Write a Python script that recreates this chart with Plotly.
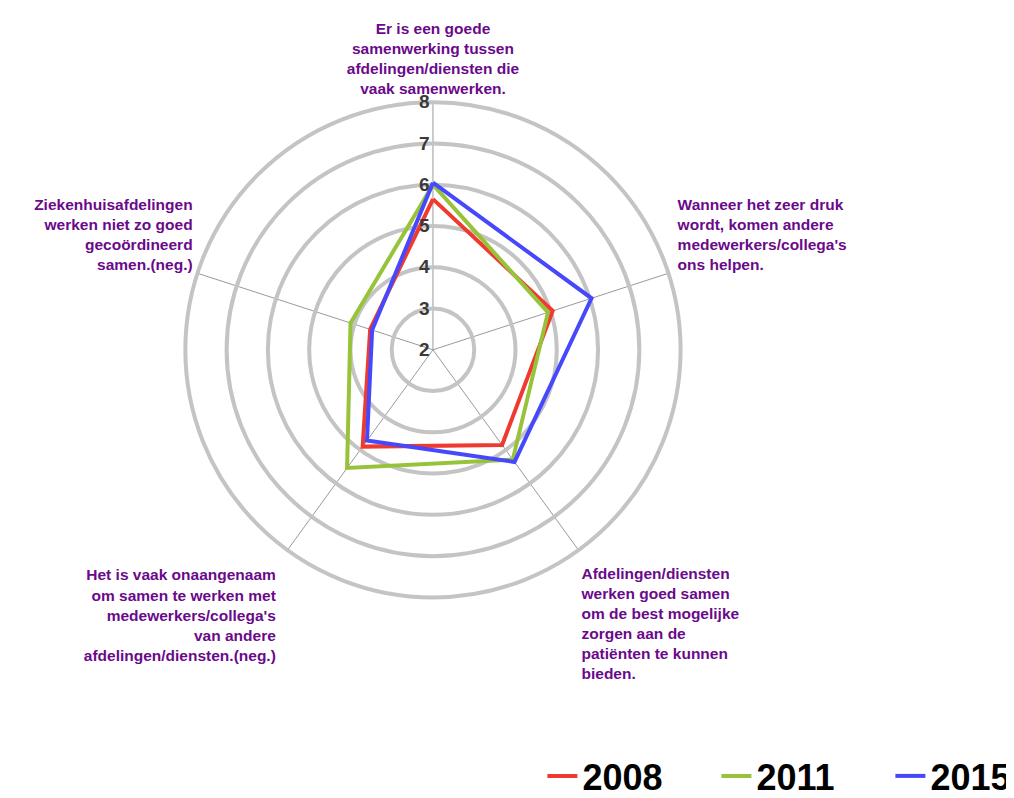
import plotly.graph_objects as go

NB = "\u00a0"
categories = [
    "Er is een goede<br>samenwerking tussen<br>afdelingen/diensten die<br>vaak samenwerken.",
    NB + "Wanneer het zeer druk<br>" + NB + "wordt, komen andere<br>" + NB + "medewerkers/collega's<br>" + NB + "ons helpen.<br>" + NB + "<br>" + NB,
    NB + "<br>Afdelingen/diensten<br>werken goed samen<br>om de best mogelijke<br>zorgen aan de<br>patiënten te kunnen<br>bieden.",
    NB + "<br>Het is vaak onaangenaam" + NB * 2 + "<br>om samen te werken met" + NB * 2 + "<br>medewerkers/collega's" + NB * 2
    + "<br>van andere" + NB * 2 + "<br>afdelingen/diensten.(neg.)" + NB * 2,
    "Ziekenhuisafdelingen<br>werken niet zo goed<br>gecoördineerd<br>samen.(neg.)<br>" + NB + "<br>" + NB,
]
years = ["2008", "2011", "2015"]
values_2008 = [5.65, 5.05, 4.85, 4.9, 3.6]
values_2011 = [6.0, 4.93, 5.29, 5.54, 4.1]
values_2015 = [6.05, 6.04, 5.36, 4.72, 3.55]
colors = ["#ef3b2f", "#97c33b", "#4747fb"]
radial_ticks = [2, 3, 4, 5, 6, 7, 8]

fig = go.Figure()
for name, vals, col in zip(years, [values_2008, values_2011, values_2015], colors):
    fig.add_trace(go.Scatterpolar(
        r=vals + vals[:1],
        theta=categories + categories[:1],
        mode="lines",
        name=name,
        line=dict(color=col, width=4),
    ))

fig.update_layout(
    width=1014, height=798,
    margin=dict(l=0, r=0, t=0, b=0, autoexpand=False),
    paper_bgcolor="white",
    plot_bgcolor="white",
    font=dict(family="Liberation Sans, Arial, sans-serif"),
    polar=dict(
        domain=dict(x=[0.1735, 0.6647], y=[0.2614, 0.8820]),
        bgcolor="white",
        radialaxis=dict(
            range=[2, 8],
            tickvals=radial_ticks,
            ticktext=[str(t) for t in radial_ticks],
            angle=90,
            tickangle=90,
            side="counterclockwise",
            showline=False,
            ticks="",
            gridcolor="#c4c4c4",
            gridwidth=4,
            tickfont=dict(size=19, color="#3a3a3a", family="Liberation Sans, Arial, sans-serif", weight="bold"),
        ),
        angularaxis=dict(
            direction="clockwise",
            rotation=90,
            showline=True,
            linecolor="#c4c4c4",
            linewidth=4,
            gridcolor="#9a9a9a",
            gridwidth=1,
            ticks="",
            tickfont=dict(size=15.5, color="#6a0a8a", family="Liberation Sans, Arial, sans-serif", weight="bold"),
        ),
    ),
    showlegend=True,
    legend=dict(
        orientation="h",
        x=0.527, xanchor="left",
        y=0.0, yanchor="bottom",
        font=dict(size=36, color="black", family="Liberation Sans, Arial, sans-serif", weight="bold"),
        entrywidth=129,
        entrywidthmode="pixels",
    ),
)

fig.write_html("out.html")
